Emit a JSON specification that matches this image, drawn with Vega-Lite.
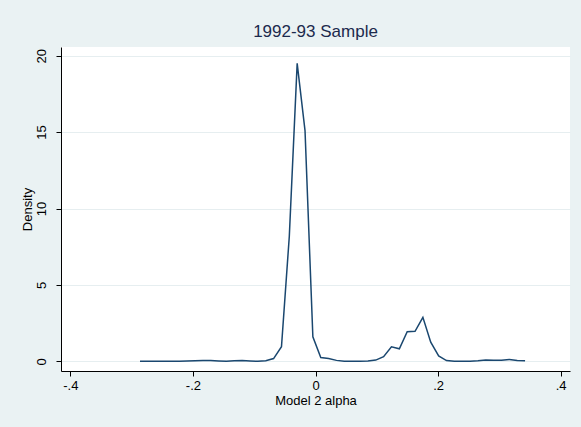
{
  "$schema": "https://vega.github.io/schema/vega-lite/v6.json",
  "autosize": {"type": "none"},
  "width": 509,
  "height": 324,
  "padding": {"left": 61, "top": 47, "right": 11, "bottom": 56},
  "background": "#EAF2F3",
  "config": {
    "view": {"fill": "white", "stroke": null},
    "font": "Liberation Sans"
  },
  "title": {
    "text": "1992-93 Sample",
    "fontSize": 17,
    "fontWeight": "normal",
    "color": "#1c2a4d",
    "offset": 6,
    "anchor": "middle"
  },
  "data": {
    "values": [
      {"x": -0.2863, "d": 0.01},
      {"x": -0.2735, "d": 0.01},
      {"x": -0.2607, "d": 0.0},
      {"x": -0.2478, "d": 0.0},
      {"x": -0.2350, "d": 0.0},
      {"x": -0.2222, "d": 0.01},
      {"x": -0.2094, "d": 0.02},
      {"x": -0.1966, "d": 0.04},
      {"x": -0.1837, "d": 0.05},
      {"x": -0.1709, "d": 0.05},
      {"x": -0.1581, "d": 0.02},
      {"x": -0.1453, "d": 0.0},
      {"x": -0.1325, "d": 0.03},
      {"x": -0.1196, "d": 0.05},
      {"x": -0.1068, "d": 0.02},
      {"x": -0.0940, "d": 0.0},
      {"x": -0.0812, "d": 0.03},
      {"x": -0.0684, "d": 0.18},
      {"x": -0.0555, "d": 0.95},
      {"x": -0.0427, "d": 8.2},
      {"x": -0.0299, "d": 19.5},
      {"x": -0.0171, "d": 15.1},
      {"x": -0.0043, "d": 1.6},
      {"x": 0.0086, "d": 0.25},
      {"x": 0.0214, "d": 0.18},
      {"x": 0.0342, "d": 0.06},
      {"x": 0.0470, "d": 0.0},
      {"x": 0.0598, "d": 0.0},
      {"x": 0.0727, "d": 0.0},
      {"x": 0.0855, "d": 0.02},
      {"x": 0.0983, "d": 0.08},
      {"x": 0.1111, "d": 0.3},
      {"x": 0.1239, "d": 0.95},
      {"x": 0.1368, "d": 0.82},
      {"x": 0.1496, "d": 1.94},
      {"x": 0.1624, "d": 1.96},
      {"x": 0.1752, "d": 2.88},
      {"x": 0.1880, "d": 1.25},
      {"x": 0.2009, "d": 0.35},
      {"x": 0.2137, "d": 0.05},
      {"x": 0.2265, "d": 0.0},
      {"x": 0.2393, "d": 0.0},
      {"x": 0.2521, "d": 0.0},
      {"x": 0.2650, "d": 0.03},
      {"x": 0.2778, "d": 0.08},
      {"x": 0.2906, "d": 0.07},
      {"x": 0.3034, "d": 0.07},
      {"x": 0.3162, "d": 0.12},
      {"x": 0.3291, "d": 0.06},
      {"x": 0.3419, "d": 0.03}
    ]
  },
  "mark": {"type": "line", "color": "#1a476f", "strokeWidth": 1.5, "clip": true},
  "encoding": {
    "x": {
      "field": "x",
      "type": "quantitative",
      "scale": {"domain": [-0.4152, 0.4152], "nice": false, "zero": false},
      "axis": {
        "values": [-0.4, -0.2, 0, 0.2, 0.4],
        "labelExpr": "datum.value == 0 ? '0' : (datum.value < 0 ? '-' : '') + replace(format(abs(datum.value), '.1f'), '0.', '.')",
        "grid": false,
        "domainColor": "#000000",
        "domainWidth": 1,
        "tickColor": "#000000",
        "tickSize": 5,
        "labelFontSize": 13,
        "labelColor": "#000000",
        "labelPadding": 3,
        "labelFlush": false,
        "title": "Model 2 alpha",
        "titleFontSize": 13,
        "titleFontWeight": "normal",
        "titleColor": "#000000",
        "titlePadding": 2
      }
    },
    "y": {
      "field": "d",
      "type": "quantitative",
      "scale": {"domain": [-0.635, 20.57], "nice": false, "zero": false},
      "axis": {
        "values": [0, 5, 10, 15, 20],
        "grid": true,
        "gridColor": "#E6EEF0",
        "gridWidth": 1,
        "domainColor": "#000000",
        "domainWidth": 1,
        "tickColor": "#000000",
        "tickSize": 5,
        "labelAngle": -90,
        "labelAlign": "center",
        "labelBaseline": "bottom",
        "labelFontSize": 13,
        "labelColor": "#000000",
        "labelPadding": 8,
        "labelFlush": false,
        "title": "Density",
        "titleFontSize": 13,
        "titleFontWeight": "normal",
        "titleColor": "#000000",
        "titlePadding": 1
      }
    }
  }
}
